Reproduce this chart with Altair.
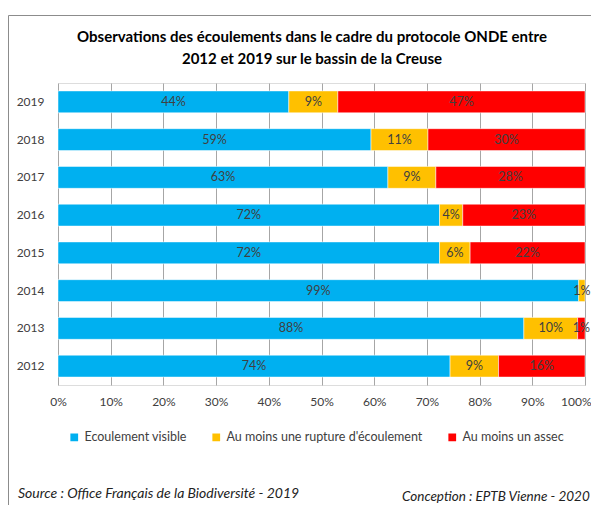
import altair as alt
import pandas as pd

years = ["2019", "2018", "2017", "2016", "2015", "2014", "2013", "2012"]
visible = [43.8, 59.4, 62.6, 72.4, 72.4, 98.8, 88.4, 74.4]
rupture = [9.3, 10.8, 9.1, 4.4, 5.8, 1.2, 10.2, 9.2]
assec = [46.9, 29.8, 28.3, 23.2, 21.8, 0.0, 1.4, 16.4]
cats = ["Ecoulement visible", "Au moins une rupture d'écoulement", "Au moins un assec"]
colors = ["#00B0F0", "#FFC000", "#FF0000"]
x_ticks = [0, 10, 20, 30, 40, 50, 60, 70, 80, 90, 100]
title_lines = ["Observations des écoulements dans le cadre du protocole ONDE entre",
               "2012 et 2019 sur le bassin de la Creuse"]
source_text = "Source : Office Français de la Biodiversité - 2019"
conception_text = "Conception : EPTB Vienne - 2020"

rows = []
for i, y in enumerate(years):
    for k, (c, vals) in enumerate(zip(cats, [visible, rupture, assec])):
        if vals[i] > 0:
            rows.append({"year": y, "cat": c, "value": vals[i], "ord": k})
df = pd.DataFrame(rows)
one = pd.DataFrame({"a": [0]})

FONT = "Lato"
TXT = "#404040"
FS = 12.5

base = alt.Chart(df).transform_stack(
    stack="value", groupby=["year"], as_=["x0", "x1"], sort=[alt.SortField("ord")]
).transform_calculate(
    mid="(datum.x0 + datum.x1) / 2",
    label="format(datum.value, '.0f') + '%'"
)

yenc = alt.Y("year:N", sort=years, title=None,
             scale=alt.Scale(paddingInner=0.42, paddingOuter=0.21),
             axis=alt.Axis(domain=False, ticks=False, labelPadding=14,
                           labelFontSize=12, labelColor=TXT, labelFont=FONT))

bars = base.mark_bar(stroke="white", strokeWidth=0.5).encode(
    x=alt.X("x0:Q", scale=alt.Scale(domain=[0, 100], nice=False), title=None,
            axis=alt.Axis(values=x_ticks, labelExpr="datum.value + '%'", domain=False,
                          ticks=False, grid=True, gridColor="#a6a6a6", gridWidth=1,
                          labelFlush=False, labelBound=False,
                          labelAlign=alt.ExprRef("datum.value == 100 ? 'right' : 'center'"),
                          labelOffset=alt.ExprRef("datum.value == 100 ? 6 : 0"),
                          labelFontSize=12, labelColor=TXT, labelFont=FONT, labelPadding=11)),
    x2="x1:Q",
    y=yenc,
    color=alt.Color("cat:N", sort=cats, scale=alt.Scale(domain=cats, range=colors),
                    legend=alt.Legend(title=None, orient="none", direction="horizontal",
                                      legendX=10, legendY=348, symbolType="square",
                                      symbolSize=60, symbolStrokeWidth=0,
                                      labelFontSize=FS, labelColor=TXT, labelFont=FONT,
                                      labelLimit=0, columnPadding=23, labelOffset=4)),
    order=alt.Order("ord:Q"),
)

labels = base.mark_text(fontSize=FS, color=TXT, font=FONT).encode(
    x=alt.X("mid:Q"),
    y=alt.Y("year:N", sort=years),
    text="label:N",
)

frame = alt.Chart(one).mark_rect(fill=None, stroke="#8c8c8c", strokeWidth=1).encode(
    x=alt.value(-49.5), x2=alt.value(560), y=alt.value(-67.5), y2=alt.value(440)
)

title = alt.Chart(one).mark_text(align="center", baseline="middle", fontSize=15,
                                 fontWeight="bold", color="#000000", font=FONT,
                                 text=title_lines, lineHeight=22
                                 ).encode(x=alt.value(254), y=alt.value(-46))

src = alt.Chart(one).mark_text(align="left", baseline="middle", fontSize=14, fontStyle="italic",
                               color="#222222", font=FONT, text=source_text
                               ).encode(x=alt.value(-40), y=alt.value(411))
conc = alt.Chart(one).mark_text(align="left", baseline="middle", fontSize=13.5, fontStyle="italic",
                                color="#222222", font=FONT, text=conception_text
                                ).encode(x=alt.value(344), y=alt.value(414))

chart = alt.layer(frame, bars, labels, title, src, conc).properties(
    width=527, height=302,
    padding={"left": 50, "top": 75, "right": 6, "bottom": 120},
    autosize=alt.AutoSizeParams(type="none"),
).configure_view(stroke=None).configure(background="white")

chart.save("out.html", embed_options={"renderer": "svg", "actions": False})
